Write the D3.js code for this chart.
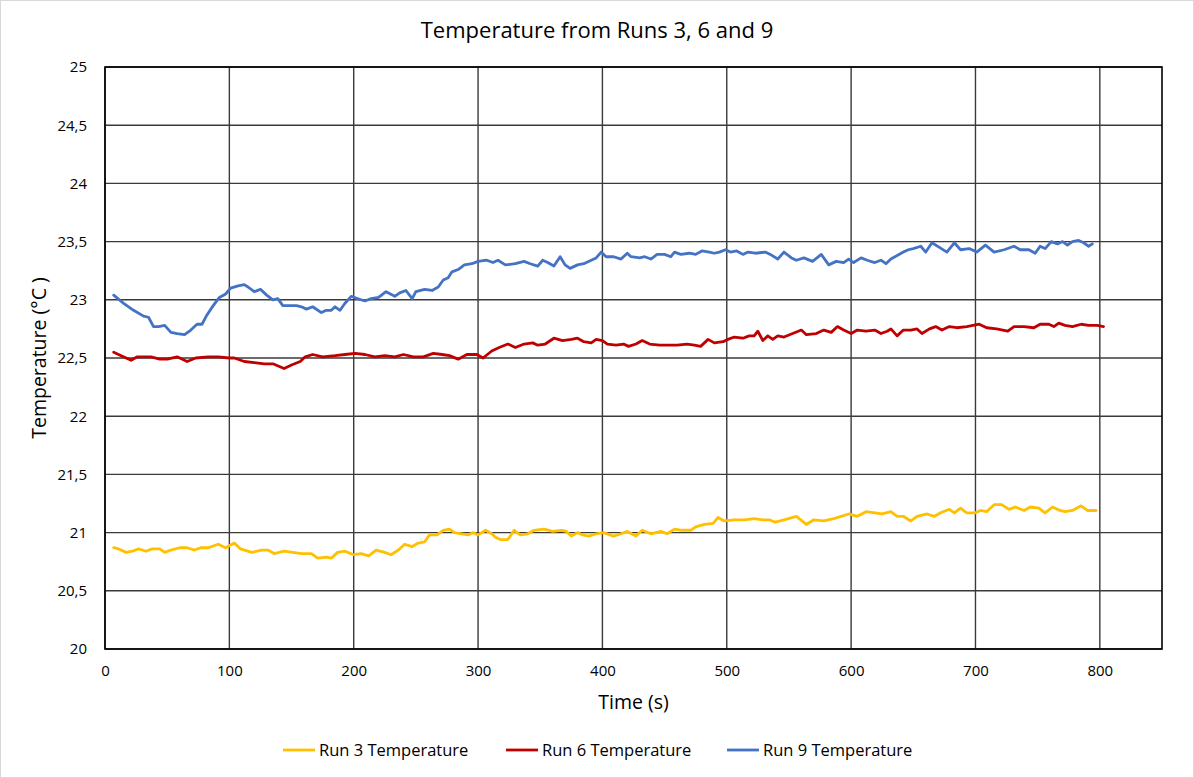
<!DOCTYPE html>
<html>
<head>
<meta charset="utf-8">
<script src="https://cdn.jsdelivr.net/npm/d3@7"></script>
<style>
  html, body { margin: 0; padding: 0; background: #ffffff; }
  svg { display: block; }
  text { font-family: "Open Sans", Lato, sans-serif; fill: #000; }
</style>
</head>
<body>
<svg id="chart" width="1194" height="778"></svg>
<script>
// Sample times (s) and temperatures (°C) for each run
const run3Time = [7,11,17,22,27,33,38,44,48,53,60,66,72,77,83,91,97,104,109,118,126,131,136,144,151,158,166,171,178,182,187,193,200,206,212,218,225,230,236,241,247,252,257,261,267,272,277,281,287,292,296,300,306,311,314,318,324,329,334,340,345,353,360,367,371,375,380,384,389,395,401,409,415,420,427,432,439,447,452,458,464,471,475,482,489,493,498,506,514,522,529,534,539,546,556,564,570,578,586,592,598,605,612,619,625,632,637,642,648,653,661,667,672,679,683,688,693,700,704,709,715,721,727,732,739,744,751,756,762,768,772,778,785,790,797];
const run3Temp = [20.87,20.86,20.83,20.84,20.86,20.84,20.86,20.86,20.83,20.85,20.87,20.87,20.85,20.87,20.87,20.90,20.87,20.91,20.86,20.83,20.85,20.85,20.82,20.84,20.83,20.82,20.82,20.78,20.79,20.78,20.83,20.84,20.81,20.82,20.80,20.85,20.83,20.81,20.85,20.90,20.88,20.91,20.92,20.98,20.98,21.02,21.03,21.00,20.99,20.98,21.00,20.98,21.02,20.99,20.96,20.94,20.94,21.02,20.98,20.99,21.02,21.03,21.01,21.02,21.01,20.97,21.00,20.98,20.97,20.99,21.00,20.97,20.99,21.01,20.97,21.02,20.99,21.01,20.99,21.03,21.02,21.02,21.05,21.07,21.08,21.13,21.10,21.11,21.11,21.12,21.11,21.11,21.09,21.11,21.14,21.07,21.11,21.10,21.12,21.14,21.16,21.14,21.18,21.17,21.16,21.18,21.14,21.14,21.10,21.14,21.16,21.14,21.17,21.20,21.17,21.21,21.17,21.17,21.19,21.18,21.24,21.24,21.20,21.22,21.19,21.22,21.21,21.17,21.22,21.19,21.18,21.19,21.23,21.19,21.19];

const run6Time = [7,13,21,26,37,44,50,58,66,73,83,91,100,104,112,120,128,135,144,150,157,161,167,175,185,193,201,209,217,225,233,240,248,256,264,271,277,284,291,299,304,311,317,324,330,337,344,348,354,361,368,375,380,385,391,395,400,404,411,417,421,427,432,438,446,454,460,468,474,479,485,490,497,501,506,513,518,522,525,529,533,537,541,546,553,560,564,572,578,584,589,594,600,605,612,619,624,629,632,637,642,648,653,657,663,668,673,679,685,693,703,709,717,726,731,739,747,752,759,763,767,772,778,785,791,798,803];
const run6Temp = [22.55,22.52,22.48,22.51,22.51,22.49,22.49,22.51,22.47,22.50,22.51,22.51,22.50,22.50,22.47,22.46,22.45,22.45,22.41,22.44,22.47,22.51,22.53,22.51,22.52,22.53,22.54,22.53,22.51,22.52,22.51,22.53,22.51,22.51,22.54,22.53,22.52,22.49,22.53,22.53,22.50,22.56,22.59,22.62,22.59,22.62,22.63,22.61,22.62,22.67,22.65,22.66,22.67,22.64,22.63,22.66,22.65,22.62,22.61,22.62,22.60,22.62,22.65,22.62,22.61,22.61,22.61,22.62,22.61,22.60,22.66,22.63,22.64,22.66,22.68,22.67,22.69,22.69,22.73,22.65,22.69,22.66,22.69,22.68,22.71,22.74,22.70,22.71,22.74,22.72,22.77,22.74,22.71,22.74,22.73,22.74,22.71,22.73,22.75,22.69,22.74,22.74,22.75,22.71,22.75,22.77,22.74,22.77,22.76,22.77,22.79,22.76,22.75,22.73,22.77,22.77,22.76,22.79,22.79,22.77,22.80,22.78,22.77,22.79,22.78,22.78,22.77];

const run9Time = [7,15,23,31,35,39,43,48,53,58,64,69,74,78,82,87,92,97,101,107,112,115,120,125,130,135,139,143,148,154,158,162,167,174,178,182,185,189,193,198,203,209,214,220,226,233,237,242,247,250,257,263,268,272,276,279,284,289,295,300,307,312,316,322,330,337,342,348,352,356,361,366,370,374,380,385,391,395,399,403,409,415,420,423,430,434,439,444,450,455,458,463,470,475,480,486,490,494,499,503,508,513,517,523,531,535,541,546,552,556,562,569,576,582,588,594,598,602,608,613,619,624,628,632,637,642,646,650,656,660,665,671,677,683,688,695,701,708,715,723,731,736,743,748,752,756,761,766,770,774,778,783,787,791,794];
const run9Temp = [23.04,22.97,22.91,22.86,22.85,22.77,22.77,22.78,22.72,22.71,22.70,22.74,22.79,22.79,22.87,22.95,23.02,23.05,23.10,23.12,23.13,23.11,23.07,23.09,23.04,23.00,23.01,22.95,22.95,22.95,22.94,22.92,22.94,22.89,22.91,22.91,22.94,22.91,22.97,23.03,23.01,22.99,23.01,23.02,23.07,23.03,23.06,23.08,23.01,23.07,23.09,23.08,23.11,23.17,23.19,23.24,23.26,23.30,23.31,23.33,23.34,23.32,23.34,23.30,23.31,23.33,23.31,23.29,23.34,23.32,23.29,23.37,23.30,23.27,23.30,23.31,23.34,23.36,23.41,23.37,23.37,23.35,23.40,23.37,23.36,23.37,23.35,23.39,23.39,23.37,23.41,23.39,23.40,23.39,23.42,23.41,23.40,23.41,23.43,23.41,23.42,23.39,23.41,23.40,23.41,23.39,23.35,23.41,23.36,23.34,23.36,23.33,23.39,23.30,23.33,23.32,23.35,23.32,23.36,23.34,23.32,23.34,23.31,23.35,23.38,23.41,23.43,23.44,23.46,23.41,23.49,23.45,23.41,23.49,23.43,23.44,23.41,23.47,23.41,23.43,23.46,23.43,23.43,23.40,23.46,23.44,23.50,23.48,23.50,23.47,23.50,23.51,23.49,23.46,23.48];

const seriesNames = ["Run 3 Temperature", "Run 6 Temperature", "Run 9 Temperature"];
const seriesColors = ["#FFC000", "#C00000", "#4472C4"];
const xTickValues = [0, 100, 200, 300, 400, 500, 600, 700, 800];
const yTickValues = [20, 20.5, 21, 21.5, 22, 22.5, 23, 23.5, 24, 24.5, 25];
const chartTitle = "Temperature from Runs 3, 6 and 9";
const xTitle = "Time (s)";
const yTitle = "Temperature (°C )";

const series = [
  { name: seriesNames[0], color: seriesColors[0], pts: run3Time.map((t, i) => [t, run3Temp[i]]) },
  { name: seriesNames[1], color: seriesColors[1], pts: run6Time.map((t, i) => [t, run6Temp[i]]) },
  { name: seriesNames[2], color: seriesColors[2], pts: run9Time.map((t, i) => [t, run9Temp[i]]) }
];

const svg = d3.select("#chart");
const W = 1194, H = 778;
const plot = { left: 105, right: 1162, top: 67, bottom: 649 };

// outer frame
svg.append("rect")
  .attr("x", 0.5).attr("y", 0.5).attr("width", W - 1).attr("height", H - 1)
  .attr("fill", "#fff").attr("stroke", "#d9d9d9").attr("stroke-width", 1);

const x = d3.scaleLinear().domain([0, 850]).range([plot.left, plot.right]);
const y = d3.scaleLinear().domain([20, 25]).range([plot.bottom, plot.top]);
const fmt = v => String(v).replace(".", ",");

// gridlines
const grid = svg.append("g");
grid.selectAll("line.v").data(xTickValues).join("line")
  .attr("x1", d => x(d)).attr("x2", d => x(d))
  .attr("y1", plot.top).attr("y2", plot.bottom)
  .attr("stroke", "#3a3a3a").attr("stroke-width", 1.4);
grid.selectAll("line.h").data(yTickValues).join("line")
  .attr("x1", plot.left).attr("x2", plot.right)
  .attr("y1", d => y(d)).attr("y2", d => y(d))
  .attr("stroke", "#3a3a3a").attr("stroke-width", 1.4);

// axes (labels only; lines are drawn by the frame and grid)
const xAxis = svg.append("g")
  .attr("transform", `translate(0,${plot.bottom})`)
  .call(d3.axisBottom(x).tickValues(xTickValues).tickSize(0).tickPadding(16).tickFormat(fmt));
const yAxis = svg.append("g")
  .attr("transform", `translate(${plot.left},0)`)
  .call(d3.axisLeft(y).tickValues(yTickValues).tickSize(0).tickPadding(18).tickFormat(fmt));
[xAxis, yAxis].forEach(a => {
  a.select(".domain").remove();
  a.selectAll("text").style("font-size", "15px").attr("fill", "#000")
    .style("font-family", "'Open Sans', Lato, sans-serif");
});

// series lines
const line = d3.line().x(d => x(d[0])).y(d => y(d[1]));
const lines = svg.append("g");
series.forEach(s => {
  lines.append("path")
    .attr("d", line(s.pts))
    .attr("fill", "none")
    .attr("stroke", s.color)
    .attr("stroke-width", 2.8)
    .attr("stroke-linejoin", "round")
    .attr("stroke-linecap", "round");
});

// plot frame
svg.append("rect")
  .attr("x", plot.left).attr("y", plot.top)
  .attr("width", plot.right - plot.left).attr("height", plot.bottom - plot.top)
  .attr("fill", "none").attr("stroke", "#000").attr("stroke-width", 1.6);

// titles
svg.append("text")
  .attr("x", 597).attr("y", 38)
  .attr("text-anchor", "middle")
  .style("font-size", "22px")
  .text(chartTitle);
svg.append("text")
  .attr("x", (plot.left + plot.right) / 2).attr("y", 709)
  .attr("text-anchor", "middle")
  .style("font-size", "19.5px")
  .text(xTitle);
svg.append("text")
  .attr("transform", `translate(46,${(plot.top + plot.bottom) / 2}) rotate(-90)`)
  .attr("text-anchor", "middle")
  .style("font-size", "19.5px")
  .text(yTitle);

// legend
const legendX = [283, 506, 727];
const legend = svg.append("g");
series.forEach((s, i) => {
  const g = legend.append("g").attr("transform", `translate(${legendX[i]},750)`);
  g.append("line").attr("x1", 0).attr("x2", 32).attr("y1", 0).attr("y2", 0)
    .attr("stroke", s.color).attr("stroke-width", 2.8);
  g.append("text").attr("x", 36).attr("y", 0).attr("dy", "0.35em")
    .style("font-size", "16.5px")
    .text(s.name);
});
</script>
</body>
</html>
